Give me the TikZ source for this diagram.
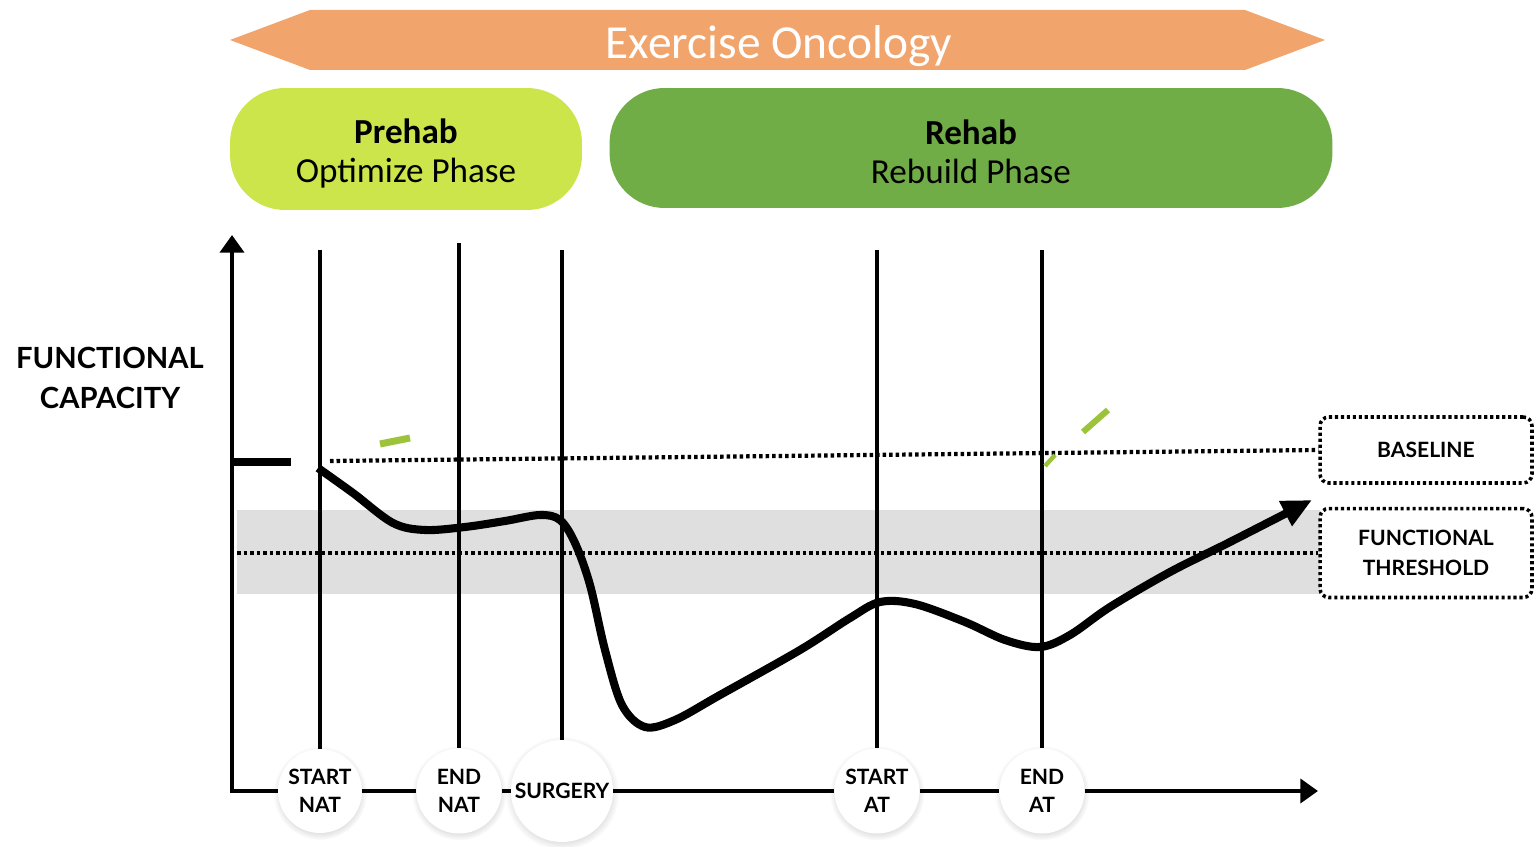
\documentclass[tikz,border=0pt]{standalone}
\usepackage{fontspec}
\setmainfont{Carlito}
\newfontfamily\labelfont{Lato}
\usetikzlibrary{arrows.meta,shadows}

\definecolor{oncoorange}{HTML}{F1A46C}
\definecolor{prehabgreen}{HTML}{CBE54A}
\definecolor{rehabgreen}{HTML}{70AD47}
\definecolor{bandgray}{HTML}{DFDFDF}
\definecolor{markgreen}{HTML}{9CC33A}

\begin{document}
\begin{tikzpicture}[x=0.02cm, y=-0.02cm,
    phase/.style={rounded corners=1.1cm, align=center, inner sep=0pt, font=\fontsize{20}{22}\selectfont},
    event/.style={circle, fill=white, minimum size=1.7cm, inner sep=0pt, align=center,
        font=\labelfont\bfseries\fontsize{12}{16}\selectfont,
        circular drop shadow={shadow xshift=0pt, shadow yshift=-1pt, shadow scale=1.12, opacity=0.22}},
    level/.style={draw, line width=2pt, dash pattern=on 1.8pt off 1.6pt, rounded corners=5pt,
        minimum width=4.24cm, align=center, font=\labelfont\bfseries\fontsize{12}{17}\selectfont},
    axis/.style={line width=2.8pt, -{Triangle[length=10pt, width=13.5pt]}},
    marker/.style={line width=1.8pt},
    dots/.style={line width=2.4pt, dash pattern=on 2pt off 1.7pt},
    curve/.style={line width=4.6pt, line join=round}
]
    \useasboundingbox (0,0) rectangle (1534,847);
    \fill [bandgray] (237,510) rectangle (1320,594);
    \fill [oncoorange] (230,40) -- (310,10) -- (1245,10) -- (1325,40) -- (1245,70) -- (310,70) -- cycle;
    \node [text=white, font=\fontsize{27}{30}\selectfont] at (779,46) (title) {Exercise Oncology};
    \node [phase, fill=prehabgreen, minimum width=7.04cm, minimum height=2.44cm] at (406,149) (prehab) {\rule{0pt}{19pt}\textbf{Prehab}\\Optimize Phase};
    \node [phase, fill=rehabgreen, minimum width=14.46cm, minimum height=2.4cm] at (971,148) (rehab) {\rule{0pt}{18pt}\textbf{Rehab}\\Rebuild Phase};
    \node [font=\labelfont\bfseries\fontsize{16.6}{23}\selectfont, align=center] at (110,378) (capacity) {FUNCTIONAL\\CAPACITY};
    \node [level, minimum height=1.32cm] at (1426,450) (baseline) {BASELINE};
    \node [level, minimum height=1.78cm] at (1426,553) (threshold) {FUNCTIONAL\\THRESHOLD};
    \node [event, minimum size=1.68cm] at (320,791) (snat) {START\\NAT};
    \node [event, minimum size=1.7cm] at (459,791) (enat) {END\\NAT};
    \node [event, minimum size=2.04cm] at (562,791) (surgery) {SURGERY};
    \node [event, minimum size=1.7cm] at (877,791) (sat) {START\\AT};
    \node [event, minimum size=1.7cm] at (1042,791) (eat) {END\\AT};
    \coordinate (origin) at (232,791);
    \coordinate (ytop) at (232,235);
    \coordinate (xend) at (1318,791);
    \coordinate (linetop) at (0,250);
    \coordinate (basestart) at (330,461);
    \coordinate (threshstart) at (237,553);
    \coordinate (preleft) at (232,462);
    \coordinate (preright) at (291,462);
    \path [draw, dots] (basestart) -- (baseline.west);
    \path [draw, dots] (threshstart) -- (threshold.west);
    \path [draw, marker] (snat.north) -- (snat |- linetop);
    \path [draw, marker] (enat.north) -- ([yshift=4pt]enat |- linetop);
    \path [draw, marker] (surgery.north) -- (surgery |- linetop);
    \path [draw, marker] (sat.north) -- (sat |- linetop);
    \path [draw, marker] (eat.north) -- (eat |- linetop);
    \path [draw, axis] (snat.west) -- (origin) -- (ytop);
    \path [draw, line width=2.8pt] (snat.east) -- (enat.west);
    \path [draw, line width=2.8pt] (enat.east) -- (surgery.west);
    \path [draw, line width=2.8pt] (surgery.east) -- (sat.west);
    \path [draw, line width=2.8pt] (sat.east) -- (eat.west);
    \path [draw, axis] (eat.east) -- (xend);
    \path [draw, curve] (preleft) -- (preright);
    \path [draw, curve, -{Triangle[length=17pt, width=15pt]}] plot [smooth, tension=0.55] coordinates {(318,468) (353,493) (393,523) (425,530) (465,527) (505,521) (540,515) (560,520) (575,543) (590,585) (605,650) (622,705) (645,727) (675,720) (720,695) (800,650) (850,618) (880,602) (915,604) (965,622) (1005,640) (1040,647) (1070,635) (1110,607) (1170,572) (1230,542) (1312,500)};
    \path [draw, markgreen, line width=4pt] (380,444) -- (410,438);
    \path [draw, markgreen, line width=3.5pt] (1083,432) -- (1108,410);
    \path [draw, markgreen, line width=2.5pt] (1045,466) -- (1055,455);
\end{tikzpicture}
\end{document}
